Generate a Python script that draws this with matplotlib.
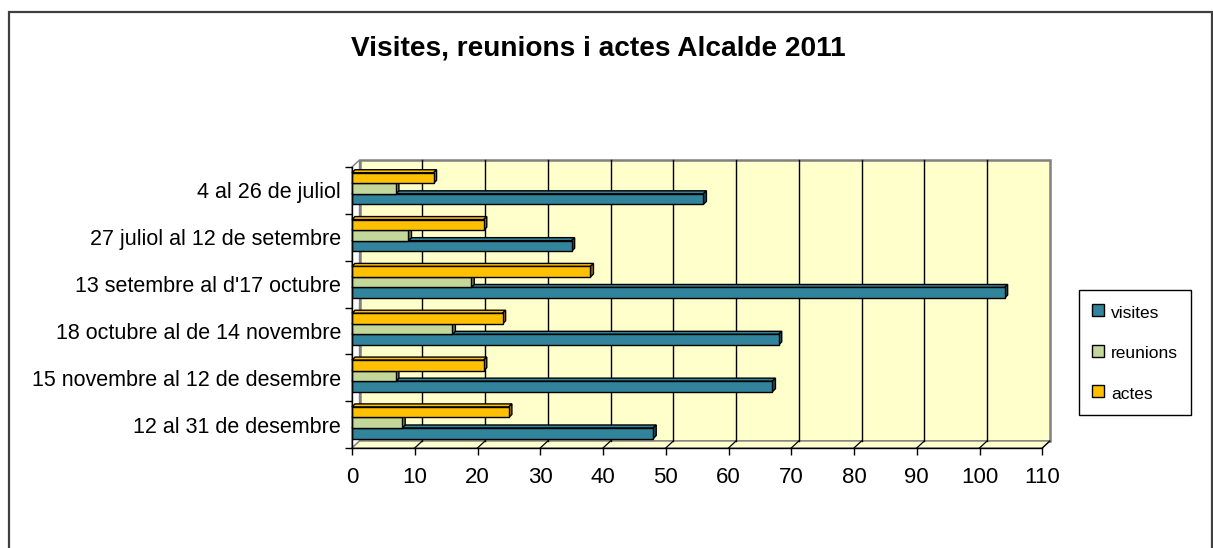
import matplotlib
matplotlib.use('Agg')
import matplotlib.pyplot as plt
from matplotlib.patches import Polygon, Rectangle
from matplotlib.lines import Line2D
from matplotlib.transforms import IdentityTransform
import numpy as np

# ---------------- data ----------------
categories = ['4 al 26 de juliol', '27 juliol al 12 de setembre',
              "13 setembre al d'17 octubre", '18 octubre al de 14 novembre',
              '15 novembre al 12 de desembre', '12 al 31 de desembre']
visites = [56, 35, 104, 68, 67, 48]
reunions = [7, 9, 19, 16, 7, 8]
actes = [13, 21, 38, 24, 21, 25]
series_names = ['visites', 'reunions', 'actes']
xticks = list(range(0, 111, 10))
title = 'Visites, reunions i actes Alcalde 2011'

# ---------------- style ----------------
colors = ['#31849B', '#C4D79B', '#FFC000']
side_colors = ['#1D5666', '#7D8A62', '#A37A00']
wall_color = '#FFFFCC'
FONT = 'Liberation Sans'

W, H = 1213, 548
fig = plt.figure(figsize=(W / 100, H / 100), dpi=100)
fig.patch.set_facecolor('white')

ax = fig.add_axes([352 / W, 1 - 448 / H, (1042.3 - 352) / W, (448 - 167) / H])
n = len(categories)
ax.set_xlim(0, 110)
ax.set_ylim(0, n)
ax.patch.set_visible(False)
for k, s in ax.spines.items():
    s.set_visible(k in ('left', 'bottom'))
    s.set_color('black')
    s.set_linewidth(1)
    s.set_zorder(6)

# ticks
ax.set_xticks(xticks)
ax.set_xticklabels([str(t) for t in xticks], fontfamily=FONT, fontsize=16)
ax.tick_params(axis='x', length=5, width=1, pad=8.5, color='black')
ax.set_yticks(np.arange(0, n + 1))
ax.set_yticklabels([])
ax.tick_params(axis='y', which='major', length=5, width=1, color='black')
centers = n - 1 - np.arange(n) + 0.5
ax.set_yticks(centers, minor=True)
ax.set_yticklabels(categories, minor=True, fontfamily=FONT, fontsize=15.5)
ax.tick_params(axis='y', which='minor', length=0, pad=8)

# ---------------- pseudo-3D walls ----------------
D = np.array([7.5, 7.0])  # wall depth offset in pixels
T = ax.transData
def P(x, y):
    return T.transform((x, y))

idt = IdentityTransform()
x0, x1 = 0, 110
bl, br, tl, tr = P(x0, 0), P(x1, 0), P(x0, n), P(x1, n)

# back wall
ax.add_artist(Polygon([bl + D, br + D, tr + D, tl + D], closed=True,
                      facecolor=wall_color, edgecolor='#808080', lw=1.8,
                      transform=idt, clip_on=False, zorder=0.5))
# left wall
ax.add_artist(Polygon([bl, tl, tl + D, bl + D], closed=True,
                      facecolor='#FFFFFF', edgecolor='#808080', lw=1,
                      transform=idt, clip_on=False, zorder=0.6))
# floor
ax.add_artist(Polygon([bl, br, br + D, bl + D], closed=True,
                      facecolor=wall_color, edgecolor='#808080', lw=1,
                      transform=idt, clip_on=False, zorder=0.6))
# gridlines on back wall and floor
for xv in xticks[1:]:
    b, t = P(xv, 0), P(xv, n)
    if xv < 110:
        ax.add_artist(Line2D([b[0] + D[0], t[0] + D[0]], [b[1] + D[1], t[1] + D[1]],
                             color='black', lw=1, transform=idt, clip_on=False, zorder=0.7))
    ax.add_artist(Line2D([b[0], b[0] + D[0]], [b[1], b[1] + D[1]],
                         color='black', lw=0.9, transform=idt, clip_on=False, zorder=0.7))

# ---------------- bars ----------------
h = 0.225
shift = 0.04
values = [visites, reunions, actes]
offsets = [-h, 0, h]
d = 3.0  # bar depth in pixels
for si, (vals, off) in enumerate(zip(values, offsets)):
    z = 2 + si
    bars = ax.barh(centers + off + shift, vals, height=h, color=colors[si],
                   edgecolor='black', linewidth=1, zorder=z + 0.1, label=series_names[si])
    for b in bars:
        bx0, by0 = b.get_x(), b.get_y()
        bx1, by1 = bx0 + b.get_width(), by0 + b.get_height()
        p00, p10, p01, p11 = P(bx0, by0), P(bx1, by0), P(bx0, by1), P(bx1, by1)
        dd = np.array([d, d])
        # top face
        ax.add_artist(Polygon([p01, p11, p11 + dd, p01 + dd], closed=True,
                              facecolor=colors[si], edgecolor='black', lw=1,
                              transform=idt, clip_on=False, zorder=z))
        # side face
        ax.add_artist(Polygon([p10, p11, p11 + dd, p10 + dd], closed=True,
                              facecolor=side_colors[si], edgecolor='black', lw=1,
                              transform=idt, clip_on=False, zorder=z))

# ---------------- title ----------------
fig.text(598 / W, 1 - 48.5 / H, title, ha='center', va='center',
         fontfamily=FONT, fontsize=20.2, fontweight='bold')

# ---------------- legend ----------------
handles = [Line2D([], [], ls='none', marker='s', markersize=8,
                  markerfacecolor=c, markeredgecolor='black', markeredgewidth=1)
           for c in colors]
leg = fig.legend(handles, series_names, loc='upper left',
                 bbox_to_anchor=(1079 / W, 1 - 290 / H),
                 prop={'family': FONT, 'size': 12.5}, frameon=True, fancybox=False,
                 edgecolor='black', framealpha=1, handlelength=0.65, handleheight=1.2,
                 handletextpad=0.45, labelspacing=1.3, borderpad=0.75, borderaxespad=0)
leg.get_frame().set_linewidth(1)

# ---------------- outer frame ----------------
fig.add_artist(Rectangle((9, -10), 1212 - 9, 548 - 12 + 10, transform=idt,
                         fill=False, edgecolor='#404040', lw=1.6))

fig.savefig('out.png', dpi=100)
